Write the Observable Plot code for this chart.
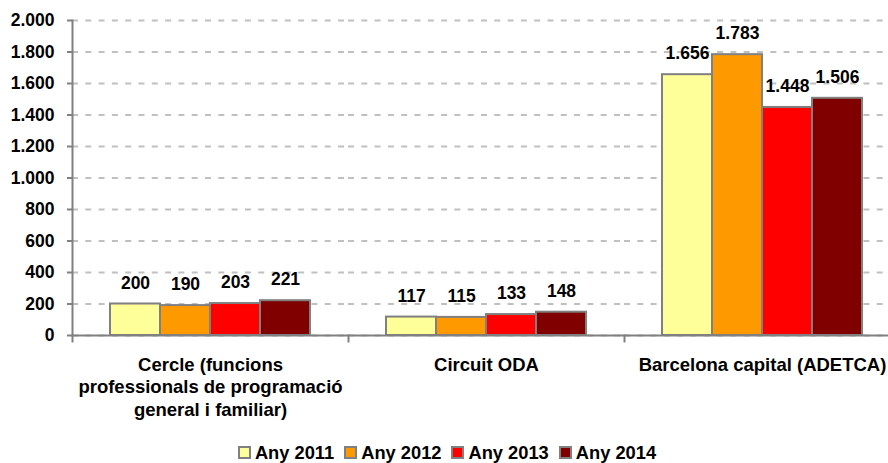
<!DOCTYPE html>
<html>
<head>
<meta charset="utf-8">
<script src="https://cdn.jsdelivr.net/npm/d3@7"></script>
<script src="https://cdn.jsdelivr.net/npm/@observablehq/plot@0.6"></script>
<style>
  body { margin: 0; background: #fff; font-family: "Liberation Sans", Arial, sans-serif; }
  #chart svg { display: block; }
  #legend { height: 38px; box-sizing: border-box; padding-top: 17px; display: flex; justify-content: center; align-items: center;
            font: bold 18.3px "Liberation Sans", Arial, sans-serif; color: #000; line-height: 20px; padding-left: 6px; }
  .item { display: flex; align-items: center; margin-right: 10px; }
  .item:last-child { margin-right: 0; }
  .sw { width: 9px; height: 9px; border: 2px solid #808080; margin-right: 4px; }
</style>
</head>
<body>
<div id="chart"></div>
<div id="legend"></div>
<script>
const categories = [
  "Cercle (funcions professionals de programació general i familiar)",
  "Circuit ODA",
  "Barcelona capital (ADETCA)"
];
const categoryLabels = [
  "Cercle (funcions\nprofessionals de programació\ngeneral i familiar)",
  "Circuit ODA",
  "Barcelona capital (ADETCA)"
];
const years = ["Any 2011", "Any 2012", "Any 2013", "Any 2014"];
const any2011 = [200, 117, 1656];
const any2012 = [190, 115, 1783];
const any2013 = [203, 133, 1448];
const any2014 = [221, 148, 1506];
const yTicks = [0, 200, 400, 600, 800, 1000, 1200, 1400, 1600, 1800, 2000];
const colors = ["#FFFF99", "#FF9900", "#FF0000", "#800000"];

const series = [any2011, any2012, any2013, any2014];
const data = [];
series.forEach((vals, i) => categories.forEach((c, j) => data.push({category: c, year: years[i], value: vals[j]})));

const fmt = d3.formatLocale({decimal: ",", thousands: ".", grouping: [3], currency: ["", "€"]}).format(",");
const labelOf = c => categoryLabels[categories.indexOf(c)];

const chart = Plot.plot({
  width: 888,
  height: 425,
  marginTop: 20,
  marginBottom: 90,
  marginLeft: 71,
  marginRight: 0,
  style: {fontFamily: "'Liberation Sans', Arial, sans-serif", fontSize: "17px", fontWeight: "bold", color: "#000", background: "#fff"},
  fx: {domain: categories, range: [71, 901], padding: 0},
  x: {domain: years, paddingInner: 0, paddingOuter: 0.76, axis: null},
  y: {domain: [0, 2000]},
  color: {domain: years, range: colors},
  marks: [
    Plot.gridY(yTicks, {stroke: "#c0c0c0", strokeOpacity: 1, strokeWidth: 2, strokeDasharray: "6,7.3"}),
    Plot.barY(data, {fx: "category", x: "year", y: "value", fill: "year", stroke: "#808080", strokeWidth: 2}),
    Plot.text(data, {fx: "category", x: "year", y: "value", text: d => fmt(d.value), dy: -21, fontWeight: "bold", fontSize: 17.5, fill: "#000"}),
    Plot.ruleY([0], {stroke: "#808080", strokeWidth: 2}),
    Plot.frame({anchor: "left", facetAnchor: "left", stroke: "#808080", strokeWidth: 2}),
    Plot.frame({anchor: "left", insetTop: 315, insetBottom: -6, stroke: "#808080", strokeWidth: 2}),
    Plot.axisY(yTicks, {anchor: "left", tickSize: 5, tickPadding: 13, tickFormat: fmt, stroke: "#808080", strokeWidth: 2, label: null, fontSize: 17.5, fontWeight: "bold"}),
    Plot.axisFx({anchor: "bottom", tickSize: 0, tickPadding: 19, tickFormat: labelOf, label: null, lineHeight: 1.22, fontSize: 18.5, fontWeight: "bold"})
  ]
});
document.getElementById("chart").appendChild(chart);

const legend = document.getElementById("legend");
years.forEach((y, i) => {
  const item = document.createElement("div");
  item.className = "item";
  const sw = document.createElement("span");
  sw.className = "sw";
  sw.style.background = colors[i];
  const t = document.createElement("span");
  t.textContent = y;
  item.appendChild(sw);
  item.appendChild(t);
  legend.appendChild(item);
});
</script>
</body>
</html>
